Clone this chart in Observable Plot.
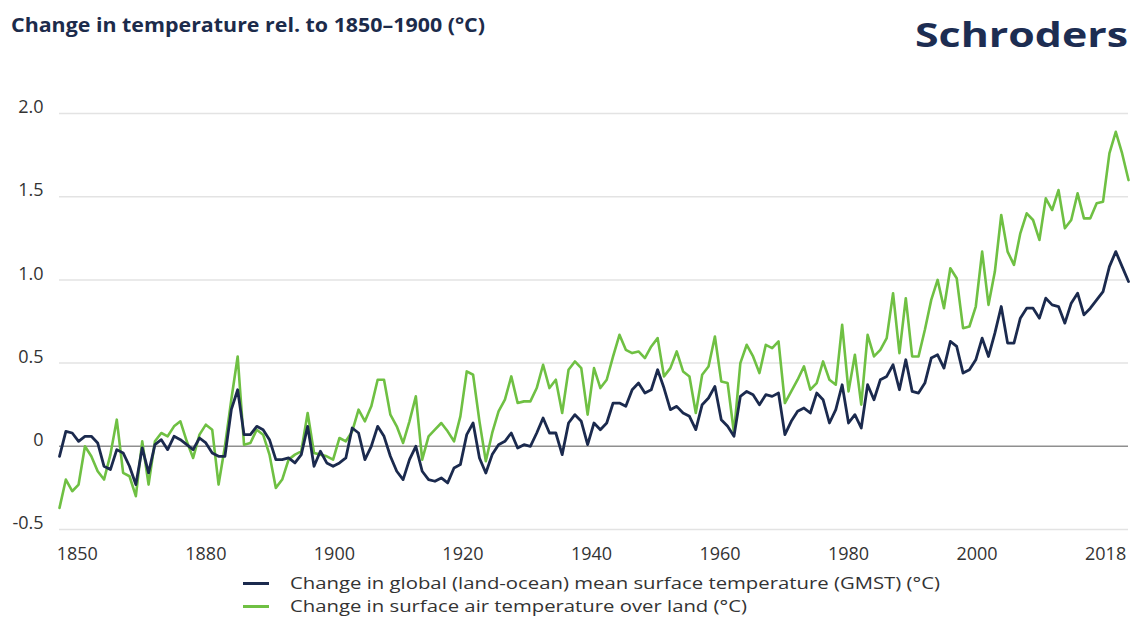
<!DOCTYPE html>
<html><head><meta charset="utf-8">
<script src="https://cdn.jsdelivr.net/npm/d3@7"></script>
<script src="https://cdn.jsdelivr.net/npm/@observablehq/plot@0.6"></script>
<style>
body{margin:0;background:#fff;font-family:"Open Sans",sans-serif;}
#wrap{position:relative;width:1135px;height:619px;overflow:hidden;background:#fff;}
.abs{position:absolute;white-space:nowrap;line-height:1;transform-origin:0 0;}
.sw{position:absolute;height:2.5px;}
</style></head><body><div id="wrap"></div>
<script>
const titleText = "Change in temperature rel. to 1850–1900 (°C)";
const logoText = "Schroders";
const seriesNames = ["Change in global (land-ocean) mean surface temperature (GMST) (°C)", "Change in surface air temperature over land (°C)"];
const seriesColors = ["#1b2a4e", "#6fc043"];

const years = d3.range(1850, 2019);
const gmst = [
 -0.06, 0.09, 0.08, 0.03, 0.06, 0.06, 0.02, -0.12, -0.14, -0.02,
 -0.04, -0.12, -0.23, -0.01, -0.16, 0.01, 0.04, -0.02, 0.06, 0.04,
 0.01, -0.02, 0.05, 0.02, -0.04, -0.06, -0.06, 0.22, 0.34, 0.07,
 0.07, 0.12, 0.10, 0.04, -0.08, -0.08, -0.07, -0.10, -0.05, 0.12,
 -0.12, -0.03, -0.10, -0.12, -0.10, -0.07, 0.11, 0.08, -0.08, 0.00,
 0.12, 0.06, -0.06, -0.15, -0.20, -0.08, 0.00, -0.15, -0.20, -0.21,
 -0.19, -0.22, -0.13, -0.11, 0.07, 0.14, -0.07, -0.16, -0.05, 0.01,
 0.03, 0.08, -0.01, 0.01, 0.00, 0.08, 0.17, 0.08, 0.08, -0.05,
 0.14, 0.19, 0.15, 0.01, 0.14, 0.10, 0.14, 0.26, 0.26, 0.24,
 0.34, 0.38, 0.32, 0.34, 0.46, 0.35, 0.22, 0.24, 0.20, 0.18,
 0.10, 0.25, 0.29, 0.36, 0.16, 0.12, 0.06, 0.30, 0.33, 0.31,
 0.25, 0.31, 0.30, 0.32, 0.07, 0.15, 0.21, 0.23, 0.20, 0.32,
 0.28, 0.14, 0.22, 0.37, 0.14, 0.19, 0.11, 0.37, 0.28, 0.40,
 0.42, 0.49, 0.34, 0.52, 0.33, 0.32, 0.38, 0.53, 0.55, 0.47,
 0.63, 0.60, 0.44, 0.46, 0.52, 0.65, 0.54, 0.68, 0.84, 0.62,
 0.62, 0.77, 0.83, 0.83, 0.77, 0.89, 0.85, 0.84, 0.74, 0.86,
 0.92, 0.79, 0.83, 0.88, 0.93, 1.08, 1.17, 1.08, 0.99
];
const land = [
 -0.37, -0.20, -0.27, -0.23, 0.00, -0.06, -0.15, -0.20, -0.05, 0.16,
 -0.16, -0.18, -0.30, 0.03, -0.23, 0.03, 0.08, 0.06, 0.12, 0.15,
 0.03, -0.07, 0.07, 0.13, 0.10, -0.23, 0.00, 0.28, 0.54, 0.01,
 0.02, 0.10, 0.07, -0.05, -0.25, -0.20, -0.08, -0.05, -0.03, 0.20,
 -0.04, -0.05, -0.06, -0.08, 0.05, 0.03, 0.09, 0.22, 0.15, 0.24,
 0.40, 0.40, 0.19, 0.12, 0.02, 0.15, 0.30, -0.08, 0.06, 0.10,
 0.14, 0.09, 0.03, 0.18, 0.45, 0.43, 0.15, -0.09, 0.08, 0.21,
 0.28, 0.42, 0.26, 0.27, 0.27, 0.35, 0.49, 0.35, 0.40, 0.20,
 0.46, 0.51, 0.47, 0.19, 0.47, 0.35, 0.40, 0.54, 0.67, 0.58,
 0.56, 0.57, 0.53, 0.60, 0.65, 0.42, 0.47, 0.57, 0.45, 0.42,
 0.20, 0.43, 0.48, 0.66, 0.39, 0.38, 0.08, 0.50, 0.61, 0.54,
 0.44, 0.61, 0.59, 0.63, 0.26, 0.33, 0.40, 0.48, 0.34, 0.38,
 0.51, 0.40, 0.37, 0.73, 0.33, 0.55, 0.25, 0.67, 0.54, 0.58,
 0.65, 0.92, 0.56, 0.89, 0.54, 0.54, 0.70, 0.88, 1.00, 0.83,
 1.07, 1.01, 0.71, 0.72, 0.84, 1.17, 0.85, 1.05, 1.39, 1.17,
 1.09, 1.28, 1.40, 1.36, 1.24, 1.49, 1.42, 1.54, 1.31, 1.36,
 1.52, 1.37, 1.37, 1.46, 1.47, 1.76, 1.89, 1.76, 1.60
];

const yTicks = [-0.5, 0, 0.5, 1.0, 1.5, 2.0];
const yTickLabels = ["-0.5", "0", "0.5", "1.0", "1.5", "2.0"];
const xTickLabels = ["1850", "1880", "1900", "1920", "1940", "1960", "1980", "2000", "2018"];
// the source places its year labels evenly along the axis
const xTickPos = xTickLabels.map((_, i) => 1852.8 + i * 20.2);

const data = years.map((yr, i) => ({year: yr, gmst: gmst[i], land: land[i]}));
const yLab = new Map(yTicks.map((t, i) => [t, yTickLabels[i]]));
const xLab = new Map(xTickPos.map((t, i) => [t, xTickLabels[i]]));

const chart = Plot.plot({
  width: 1135, height: 570,
  marginLeft: 59, marginRight: 7, marginTop: 113, marginBottom: 41,
  x: {domain: [1850, 2018]},
  y: {domain: [-0.5, 2.0]},
  style: {fontFamily: '"Open Sans", sans-serif', fontSize: "18px", color: "#333", background: "transparent", overflow: "visible"},
  marks: [
    Plot.ruleY(yTicks.filter(d => d !== 0), {stroke: "#e3e3e3", strokeWidth: 1.5}),
    Plot.ruleY([0], {stroke: "#8f8f8f", strokeWidth: 1.5}),
    Plot.axisY(yTicks, {tickSize: 0, tickPadding: 16, dy: -6, tickFormat: d => yLab.get(d), label: null, fontSize: 18}),
    Plot.axisX(xTickPos, {tickSize: 0, tickPadding: 18, tickFormat: d => xLab.get(d), label: null, fontSize: 18}),
    Plot.lineY(data, {x: "year", y: "land", stroke: seriesColors[1], strokeWidth: 2.6, strokeLinejoin: "round"}),
    Plot.lineY(data, {x: "year", y: "gmst", stroke: seriesColors[0], strokeWidth: 2.8, strokeLinejoin: "round"})
  ]
});
const wrap = document.getElementById("wrap");
chart.style.position = "absolute";
chart.style.left = "0px";
chart.style.top = "0px";
wrap.appendChild(chart);

function addText(txt, left, baseline, size, weight, color, targetW) {
  const el = document.createElement("div");
  el.className = "abs";
  el.textContent = txt;
  el.style.left = left + "px";
  el.style.top = (baseline - 0.888 * size) + "px";
  el.style.fontSize = size + "px";
  el.style.fontWeight = weight;
  el.style.color = color;
  wrap.appendChild(el);
  if (targetW) {
    const w = el.getBoundingClientRect().width;
    el.style.transform = `scaleX(${targetW / w})`;
  }
  return el;
}
addText(titleText, 11, 33, 20, 700, "#1c2b4b", 474);
addText(logoText, 915, 47, 34, 700, "#1d2d52", 213);

const legendRows = [583, 606];
seriesNames.forEach((name, i) => {
  const sw = document.createElement("div");
  sw.className = "sw";
  sw.style.left = "243px";
  sw.style.width = "26px";
  sw.style.top = (legendRows[i] - 1) + "px";
  sw.style.background = seriesColors[i];
  wrap.appendChild(sw);
  addText(name, 290, legendRows[i] + 6, 17, 400, "#333", i === 0 ? 650 : 457);
});
</script></body></html>
